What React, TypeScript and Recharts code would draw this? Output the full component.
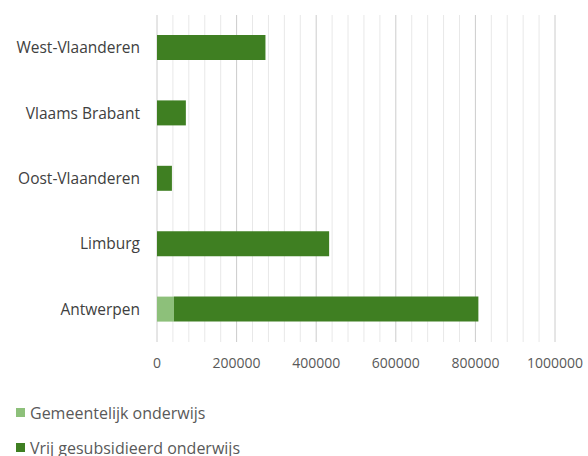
import React from 'react';
import { BarChart, Bar, XAxis, YAxis, CartesianGrid, ReferenceLine } from 'recharts';

const PROVINCES = ['West-Vlaanderen', 'Vlaams Brabant', 'Oost-Vlaanderen', 'Limburg', 'Antwerpen'];
const GEMEENTELIJK = [0, 0, 0, 0, 42500];
const VRIJ = [272500, 72500, 37500, 432500, 765000];
const MAJOR_TICKS = [0, 200000, 400000, 600000, 800000, 1000000];
const MINOR_TICKS = [
  40000, 80000, 120000, 160000, 240000, 280000, 320000, 360000, 440000, 480000,
  520000, 560000, 640000, 680000, 720000, 760000, 840000, 880000, 920000, 960000,
];

const LIGHT = '#8dc07a';
const DARK = '#3f7f22';
const FONT = '"Open Sans", sans-serif';

const data = PROVINCES.map((name, i) => ({ name, gemeentelijk: GEMEENTELIJK[i], vrij: VRIJ[i] }));

const legendItems = [
  { label: 'Gemeentelijk onderwijs', color: LIGHT },
  { label: 'Vrij gesubsidieerd onderwijs', color: DARK },
];

export default function App() {
  return (
    <div style={{ position: 'absolute', left: 0, top: 0, width: 588, height: 456, background: '#fff', fontFamily: FONT }}>
      <BarChart
        width={588}
        height={380}
        data={data}
        layout="vertical"
        margin={{ top: 15, right: 33, left: 0, bottom: 0 }}
      >
        {/* minor gridlines kept behind the bars */}
        {MINOR_TICKS.map((v) => (
          <ReferenceLine key={v} x={v} stroke="#e8e8e8" zIndex={-100} />
        ))}
        <CartesianGrid horizontal={false} stroke="#cccccc" />
        <XAxis
          type="number"
          domain={[0, 1000000]}
          ticks={MAJOR_TICKS}
          axisLine={false}
          tickLine={false}
          tickSize={0}
          tickMargin={16}
          height={38}
          tick={{ fontSize: 14, fill: '#595959', fontFamily: FONT }}
        />
        <YAxis
          type="category"
          dataKey="name"
          width={157}
          axisLine={false}
          tickLine={false}
          tickSize={0}
          tickMargin={17}
          tick={{ fontSize: 15.5, fill: '#404040', fontFamily: FONT }}
        />
        <Bar dataKey="gemeentelijk" stackId="a" fill={LIGHT} barSize={25} isAnimationActive={false} />
        <Bar dataKey="vrij" stackId="a" fill={DARK} barSize={25} isAnimationActive={false} />
      </BarChart>
      <div style={{ position: 'absolute', left: 16, top: 395, fontSize: 16, color: '#595959' }}>
        {legendItems.map((item) => (
          <div key={item.label} style={{ display: 'flex', alignItems: 'center', height: 35 }}>
            <span style={{ width: 9, height: 9, background: item.color, marginRight: 5, display: 'inline-block' }} />
            <span>{item.label}</span>
          </div>
        ))}
      </div>
    </div>
  );
}
